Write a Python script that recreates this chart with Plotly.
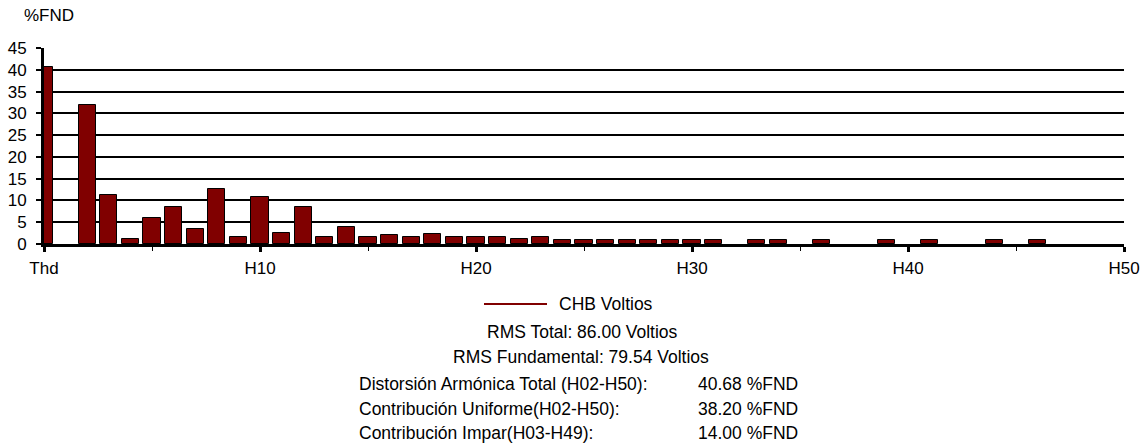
import plotly.graph_objects as go

# Harmonic spectrum (% of fundamental). Position 0 is the THD bar, 1 is the fundamental (not plotted).
# None = no measurable bar for that order.
orders = list(range(0, 51))
values = [
    40.68, None, 31.9, 11.2, 1.1, 5.9, 8.4, 3.5, 12.6, 1.5,      # Thd, H1..H9
    10.8, 2.5, 8.4, 1.5, 4.0, 1.5, 2.1, 1.5, 2.2, 1.5,           # H10..H19
    1.5, 1.5, 1.1, 1.6, 1.0, 1.0, 1.0, 1.0, 1.0, 1.0,            # H20..H29
    1.0, 1.0, None, 1.0, 1.0, None, 1.0, None, None, 1.0,        # H30..H39
    None, 1.0, None, None, 1.0, None, 1.0, None, None, None,     # H40..H49
    None,                                                        # H50
]
tick_positions = [0, 10, 20, 30, 40, 50]
tick_labels = ["Thd", "H10", "H20", "H30", "H40", "H50"]
y_ticks = list(range(0, 46, 5))

series_name = "CHB Voltios"
summary_centered = [
    "RMS Total: 86.00 Voltios",
    "RMS Fundamental: 79.54 Voltios",
]
summary_labels = [
    "Distorsión Armónica Total (H02-H50):",
    "Contribución Uniforme(H02-H50):",
    "Contribución Impar(H03-H49):",
]
summary_values = ["40.68 %FND", "38.20 %FND", "14.00 %FND"]

BAR_COLOR = "#800000"
FONT = "Liberation Sans, Arial, sans-serif"
FS = 17
FS_TEXT = 17.5

W, H = 1147, 448
M_L, M_R, M_T, M_B = 44, 23, 48, 204
PLOT_W = W - M_L - M_R
PLOT_H = H - M_T - M_B


def px_x(px):
    return (px - M_L) / PLOT_W


def px_y(py):
    return (H - M_B - py) / PLOT_H


fig = go.Figure()
fig.add_trace(go.Bar(
    x=orders,
    y=values,
    width=0.8,
    marker=dict(color=BAR_COLOR, line=dict(color="#000000", width=1)),
    name=series_name,
    showlegend=False,
    cliponaxis=True,
))

fig.update_layout(
    width=W,
    height=H,
    margin=dict(l=M_L, r=M_R, t=M_T, b=M_B, pad=0, autoexpand=False),
    paper_bgcolor="#ffffff",
    plot_bgcolor="#ffffff",
    font=dict(family=FONT, size=FS, color="#000000"),
    bargap=0,
    xaxis=dict(
        range=[0, 50],
        automargin=False,
        tickmode="array",
        tickvals=tick_positions,
        ticktext=tick_labels,
        ticks="outside",
        ticklen=5,
        tickwidth=3,
        tickcolor="#000000",
        showline=True,
        linecolor="#000000",
        linewidth=3,
        showgrid=False,
        zeroline=False,
        minor=dict(tickmode="linear", tick0=5, dtick=10, ticks="outside",
                   ticklen=4, tickwidth=1, tickcolor="#000000", showgrid=False),
        ticklabelstandoff=2,
        tickfont=dict(size=FS),
    ),
    yaxis=dict(
        range=[0, 45],
        automargin=False,
        tickmode="array",
        tickvals=y_ticks,
        ticks="outside",
        ticklen=5,
        tickwidth=2,
        tickcolor="#000000",
        showline=True,
        linecolor="#000000",
        linewidth=3,
        showgrid=True,
        gridcolor="#000000",
        gridwidth=2,
        zeroline=False,
        ticklabelstandoff=6,
        tickfont=dict(size=FS),
    ),
)

# Axis unit label
fig.add_annotation(xref="paper", yref="paper", x=px_x(22), y=px_y(15),
                   text="%FND", showarrow=False, xanchor="left", yanchor="middle",
                   font=dict(size=FS))

# Legend entry: line sample + series name
fig.add_shape(type="line", xref="paper", yref="paper",
              x0=px_x(484), x1=px_x(547), y0=px_y(304), y1=px_y(304),
              line=dict(color=BAR_COLOR, width=2))
fig.add_annotation(xref="paper", yref="paper", x=px_x(557), y=px_y(304),
                   text=series_name, showarrow=False, xanchor="left", yanchor="middle",
                   font=dict(size=FS_TEXT))

# RMS summary
for text, cx, cy in zip(summary_centered, [582, 581], [332, 357]):
    fig.add_annotation(xref="paper", yref="paper", x=px_x(cx), y=px_y(cy),
                       text=text, showarrow=False, xanchor="center", yanchor="middle",
                       font=dict(size=FS_TEXT))

# Distortion summary table
for label, val, cy in zip(summary_labels, summary_values, [384, 409, 433]):
    fig.add_annotation(xref="paper", yref="paper", x=px_x(357), y=px_y(cy),
                       text=label, showarrow=False, xanchor="left", yanchor="middle",
                       font=dict(size=FS_TEXT))
    fig.add_annotation(xref="paper", yref="paper", x=px_x(696), y=px_y(cy),
                       text=val, showarrow=False, xanchor="left", yanchor="middle",
                       font=dict(size=FS_TEXT))

fig.write_html("out.html")
